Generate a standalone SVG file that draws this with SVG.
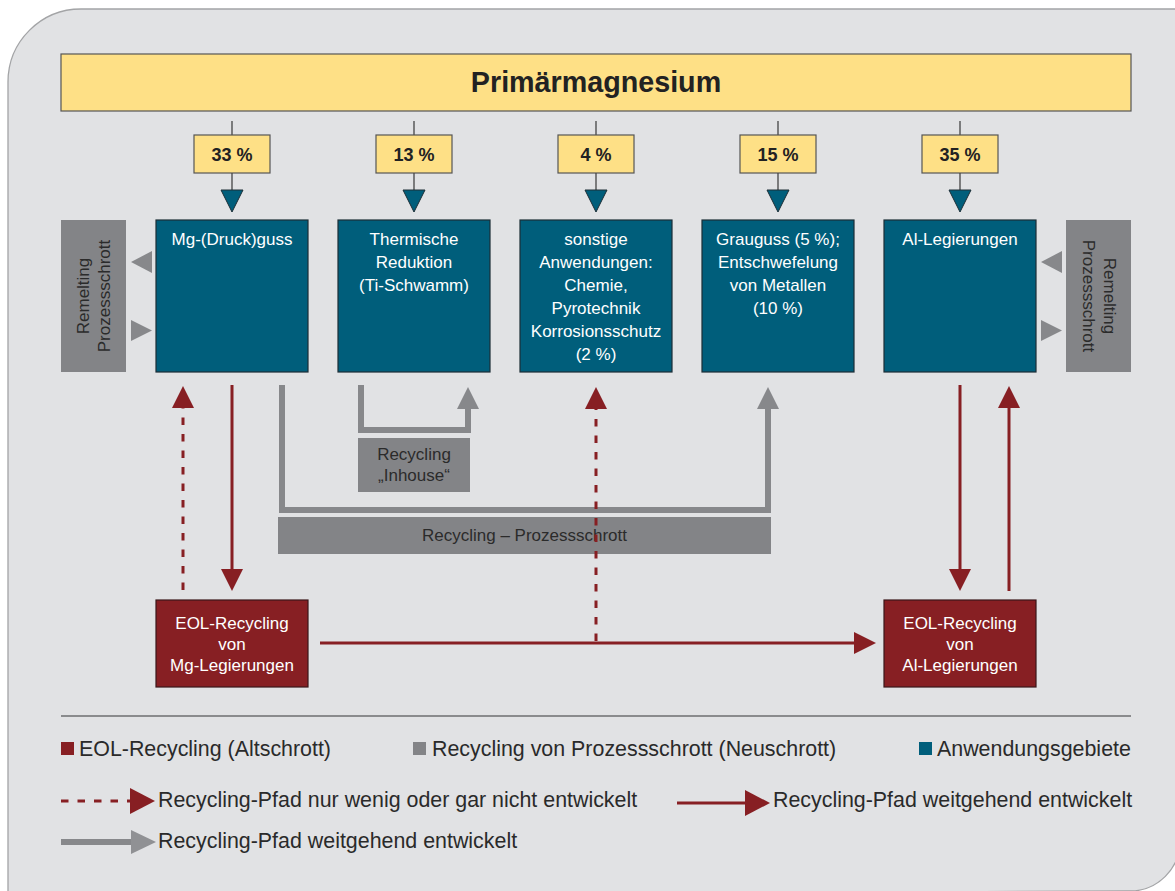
<svg xmlns="http://www.w3.org/2000/svg" width="1175" height="891" viewBox="0 0 1175 891">
  <style>
    .txt { font-family: "Liberation Sans", Arial, sans-serif; }
    .app { fill: #005e7b; stroke: #1c2e36; stroke-width: 1.2; }
    .apptxt { font-family: "Liberation Sans", Arial, sans-serif; font-size: 17px; fill: #ffffff; text-anchor: middle; }
    .eol { fill: #871f23; stroke: #3a1619; stroke-width: 1.2; }
    .grey { fill: #838487; }
    .greytxt { font-family: "Liberation Sans", Arial, sans-serif; font-size: 17px; fill: #2b2b2b; text-anchor: middle; }
    .pct { fill: #fee086; stroke: #555555; stroke-width: 1.2; }
    .pcttxt { font-family: "Liberation Sans", Arial, sans-serif; font-size: 18px; font-weight: bold; fill: #222222; text-anchor: middle; }
    .stub { stroke: #444444; stroke-width: 1.3; fill: none; }
    .feed { fill: #005e7b; stroke: #1c2e36; stroke-width: 1; }
    .gpath { fill: none; stroke: #87888b; stroke-width: 6; stroke-linejoin: miter; }
    .rsolid { fill: none; stroke: #871f23; stroke-width: 3; }
    .rdash { fill: none; stroke: #871f23; stroke-width: 3; stroke-dasharray: 7.5 9; }
    .legtxt { font-family: "Liberation Sans", Arial, sans-serif; font-size: 21.4px; fill: #2a2a2a; }
    .tri { fill: #87888b; }
  </style>
  <defs>
    <marker id="headRed" markerUnits="userSpaceOnUse" markerWidth="22" markerHeight="22" viewBox="0 0 22 22" refX="1" refY="11" orient="auto" overflow="visible">
      <path d="M0,0 L22,11 L0,22 Z" fill="#871f23"/>
    </marker>
    <marker id="headGrey" markerUnits="userSpaceOnUse" markerWidth="22" markerHeight="22" viewBox="0 0 22 22" refX="1" refY="11" orient="auto" overflow="visible">
      <path d="M0,0 L22,11 L0,22 Z" fill="#87888b"/>
    </marker>
    <marker id="headRedLeg" markerUnits="userSpaceOnUse" markerWidth="25" markerHeight="26" viewBox="0 0 25 26" refX="1" refY="13" orient="auto" overflow="visible">
      <path d="M0,0 L25,13 L0,26 Z" fill="#871f23"/>
    </marker>
    <marker id="headGreyLeg" markerUnits="userSpaceOnUse" markerWidth="25" markerHeight="24" viewBox="0 0 25 24" refX="1" refY="12" orient="auto" overflow="visible">
      <path d="M0,0 L25,12 L0,24 Z" fill="#909194"/>
    </marker>
  </defs>

  <!-- panel background -->
  <rect x="0" y="0" width="1175" height="891" fill="#ffffff"/>
  <path d="M8,82 A73,73 0 0 1 81,9 L1180,9 L1180,841 A50,50 0 0 1 1130,891 L8,896 Z" fill="#e1e2e4" stroke="#a3a4a6" stroke-width="1.3"/>

  <!-- source -->
  <g id="primaer">
    <rect x="61" y="54" width="1070" height="57" fill="#fee086" stroke="#555555" stroke-width="1.2"/>
    <text class="txt" x="596" y="92" font-size="28.7" font-weight="bold" fill="#222222" text-anchor="middle">Primärmagnesium</text>
  </g>

  <!-- shares -->
  <g id="share-33">
    <line class="stub" x1="232" y1="121" x2="232" y2="135"/>
    <rect class="pct" x="194" y="135" width="76" height="38"/>
    <text class="pcttxt" x="232" y="161">33 %</text>
    <line class="stub" x1="232" y1="173" x2="232" y2="190"/>
    <path class="feed" d="M221,190 L243,190 L232,212 Z"/>
  </g>
  <g id="share-13">
    <line class="stub" x1="414" y1="121" x2="414" y2="135"/>
    <rect class="pct" x="376" y="135" width="76" height="38"/>
    <text class="pcttxt" x="414" y="161">13 %</text>
    <line class="stub" x1="414" y1="173" x2="414" y2="190"/>
    <path class="feed" d="M403,190 L425,190 L414,212 Z"/>
  </g>
  <g id="share-4">
    <line class="stub" x1="596" y1="121" x2="596" y2="135"/>
    <rect class="pct" x="558" y="135" width="76" height="38"/>
    <text class="pcttxt" x="596" y="161">4 %</text>
    <line class="stub" x1="596" y1="173" x2="596" y2="190"/>
    <path class="feed" d="M585,190 L607,190 L596,212 Z"/>
  </g>
  <g id="share-15">
    <line class="stub" x1="778" y1="121" x2="778" y2="135"/>
    <rect class="pct" x="740" y="135" width="76" height="38"/>
    <text class="pcttxt" x="778" y="161">15 %</text>
    <line class="stub" x1="778" y1="173" x2="778" y2="190"/>
    <path class="feed" d="M767,190 L789,190 L778,212 Z"/>
  </g>
  <g id="share-35">
    <line class="stub" x1="960" y1="121" x2="960" y2="135"/>
    <rect class="pct" x="922" y="135" width="76" height="38"/>
    <text class="pcttxt" x="960" y="161">35 %</text>
    <line class="stub" x1="960" y1="173" x2="960" y2="190"/>
    <path class="feed" d="M949,190 L971,190 L960,212 Z"/>
  </g>

  <!-- application fields -->
  <g id="mg-guss">
    <rect class="app" x="156" y="220" width="152" height="152"/>
    <text class="apptxt" x="232" y="245">Mg-(Druck)guss</text>
  </g>
  <g id="thermische-reduktion">
    <rect class="app" x="338" y="220" width="152" height="152"/>
    <text class="apptxt" x="414" y="245">Thermische</text>
    <text class="apptxt" x="414" y="268">Reduktion</text>
    <text class="apptxt" x="414" y="291">(Ti-Schwamm)</text>
  </g>
  <g id="sonstige">
    <rect class="app" x="520" y="220" width="152" height="152"/>
    <text class="apptxt" x="596" y="245">sonstige</text>
    <text class="apptxt" x="596" y="268">Anwendungen:</text>
    <text class="apptxt" x="596" y="291">Chemie,</text>
    <text class="apptxt" x="596" y="314">Pyrotechnik</text>
    <text class="apptxt" x="596" y="337">Korrosionsschutz</text>
    <text class="apptxt" x="596" y="360">(2 %)</text>
  </g>
  <g id="grauguss">
    <rect class="app" x="702" y="220" width="152" height="152"/>
    <text class="apptxt" x="778" y="245">Grauguss (5 %);</text>
    <text class="apptxt" x="778" y="268">Entschwefelung</text>
    <text class="apptxt" x="778" y="291">von Metallen</text>
    <text class="apptxt" x="778" y="314">(10 %)</text>
  </g>
  <g id="al-legierungen">
    <rect class="app" x="884" y="220" width="152" height="152"/>
    <text class="apptxt" x="960" y="245">Al-Legierungen</text>
  </g>

  <!-- remelting of process scrap -->
  <g id="remelting-links">
    <rect class="grey" x="61" y="220" width="65" height="152"/>
    <g transform="translate(93.5,296) rotate(-90)">
      <text class="greytxt" x="0" y="-5" font-size="17.5">Remelting</text>
      <text class="greytxt" x="0" y="16" font-size="17.5">Prozessschrott</text>
    </g>
    <path class="tri" d="M152,251 L152,273 L131,262 Z"/>
    <path class="tri" d="M131,320 L131,341 L152,330.5 Z"/>
  </g>
  <g id="remelting-rechts">
    <rect class="grey" x="1066" y="220" width="65" height="152"/>
    <g transform="translate(1098.5,296) rotate(90)">
      <text class="greytxt" x="0" y="-5" font-size="17.5">Remelting</text>
      <text class="greytxt" x="0" y="16" font-size="17.5">Prozessschrott</text>
    </g>
    <path class="tri" d="M1062,251 L1062,273 L1041,262 Z"/>
    <path class="tri" d="M1041,320 L1041,341 L1062,330.5 Z"/>
  </g>

  <!-- recycling boxes -->
  <g id="inhouse">
    <rect class="grey" x="358" y="438" width="112" height="54"/>
    <text class="greytxt" x="414" y="460">Recycling</text>
    <text class="greytxt" x="414" y="481">„Inhouse“</text>
  </g>
  <g id="prozessschrott">
    <rect class="grey" x="278" y="517" width="493" height="37"/>
    <text class="greytxt" x="524.5" y="541">Recycling – Prozessschrott</text>
  </g>
  <g id="eol-mg">
    <rect class="eol" x="156" y="600" width="152" height="87"/>
    <text class="apptxt" x="232" y="629">EOL-Recycling</text>
    <text class="apptxt" x="232" y="650">von</text>
    <text class="apptxt" x="232" y="671">Mg-Legierungen</text>
  </g>
  <g id="eol-al">
    <rect class="eol" x="884" y="600" width="152" height="87"/>
    <text class="apptxt" x="960" y="629">EOL-Recycling</text>
    <text class="apptxt" x="960" y="650">von</text>
    <text class="apptxt" x="960" y="671">Al-Legierungen</text>
  </g>

  <!-- flows -->
  <g id="connectors">
    <path class="gpath" d="M282,385 V510 H768 V408" marker-end="url(#headGrey)"/>
    <path class="gpath" d="M361,385 V430 H468 V408" marker-end="url(#headGrey)"/>
    <path class="rdash" d="M183,590 V407" marker-end="url(#headRed)"/>
    <path class="rsolid" d="M232,385 V570" marker-end="url(#headRed)"/>
    <path class="rdash" d="M596,641 V408" marker-end="url(#headRed)"/>
    <path class="rsolid" d="M320,643 H855" marker-end="url(#headRed)"/>
    <path class="rsolid" d="M960,385 V570" marker-end="url(#headRed)"/>
    <path class="rsolid" d="M1009,591 V407" marker-end="url(#headRed)"/>
  </g>

  <!-- legend -->
  <g id="legend">
    <line x1="61" y1="716" x2="1131" y2="716" stroke="#8a8b8d" stroke-width="2"/>
    <rect x="61" y="742" width="13" height="13" fill="#871f23"/>
    <text class="legtxt" x="79" y="756">EOL-Recycling (Altschrott)</text>
    <rect x="413" y="742" width="13" height="13" fill="#838487"/>
    <text class="legtxt" x="432" y="756">Recycling von Prozessschrott (Neuschrott)</text>
    <rect x="919" y="742" width="13" height="13" fill="#005e7b"/>
    <text class="legtxt" x="937" y="756">Anwendungsgebiete</text>

    <path class="rdash" d="M61,801 H131" stroke-dasharray="8 7" marker-end="url(#headRedLeg)"/>
    <text class="legtxt" x="158" y="807">Recycling-Pfad nur wenig oder gar nicht entwickelt</text>
    <path class="rsolid" d="M677,803 H746" marker-end="url(#headRedLeg)"/>
    <text class="legtxt" x="773" y="807">Recycling-Pfad weitgehend entwickelt</text>

    <path d="M61,842 H132" fill="none" stroke="#87888b" stroke-width="6" marker-end="url(#headGreyLeg)"/>
    <text class="legtxt" x="158" y="848">Recycling-Pfad weitgehend entwickelt</text>
  </g>
</svg>
